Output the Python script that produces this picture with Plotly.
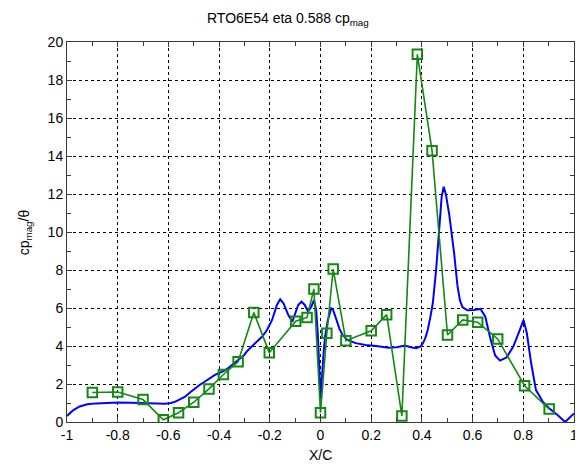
import plotly.graph_objects as go

# Blue curve (continuous distribution)
blue_x = [-1.0, -0.975, -0.95, -0.92, -0.884, -0.84, -0.80, -0.75, -0.70, -0.65, -0.612, -0.59,
          -0.573, -0.553, -0.534, -0.515, -0.496, -0.477, -0.457, -0.438, -0.418, -0.40, -0.379,
          -0.36, -0.34, -0.32, -0.301, -0.289, -0.27, -0.25, -0.23, -0.211, -0.191, -0.172,
          -0.159, -0.146, -0.127, -0.111, -0.101, -0.088, -0.075, -0.062, -0.049, -0.036,
          -0.026, -0.017, -0.010, -0.004, 0.0, 0.004, 0.007, 0.012, 0.018, 0.029, 0.042, 0.050,
          0.061, 0.074, 0.087, 0.106, 0.139, 0.177, 0.22, 0.268, 0.30, 0.333, 0.36, 0.378,
          0.395, 0.404, 0.413, 0.423, 0.433, 0.443, 0.456, 0.469, 0.478, 0.486, 0.495, 0.508,
          0.527, 0.540, 0.550, 0.560, 0.579, 0.605, 0.631, 0.650, 0.670, 0.689, 0.708, 0.734,
          0.760, 0.786, 0.801, 0.814, 0.831, 0.850, 0.877, 0.902, 0.935, 0.965, 0.993, 1.0]
blue_y = [0.32, 0.63, 0.82, 0.93, 0.98, 1.01, 1.02, 1.01, 0.99, 0.97, 0.96, 1.0,
          1.07, 1.2, 1.33, 1.55, 1.77, 1.95, 2.12, 2.3, 2.47, 2.58, 2.7,
          2.88, 3.09, 3.3, 3.53, 3.74, 3.97, 4.23, 4.5, 4.84, 5.37, 6.16,
          6.46, 6.25, 5.63, 5.28, 5.72, 6.16, 6.33, 6.16, 5.81, 6.07,
          6.42, 5.89, 4.49, 2.74, 1.2, 2.0, 2.74, 3.6, 4.49, 5.37, 5.98, 5.89,
          5.46, 4.93, 4.58, 4.32, 4.15, 4.05, 4.0, 3.91, 3.93, 4.02, 3.92, 3.88,
          3.98, 4.14, 4.4, 4.84, 5.5, 6.25, 8.0, 10.28, 11.86, 12.38, 11.95, 10.9,
          8.9, 7.2, 6.4, 6.05, 5.88, 5.9, 5.95, 5.54, 4.4, 3.5, 3.23, 3.4,
          3.96, 4.84, 5.37, 4.67, 3.09, 1.68, 1.07, 0.72, 0.37, 0.0, 0.37, 0.45]

# Green measured points
green_x = [-0.90, -0.80, -0.70, -0.62, -0.56, -0.50, -0.44, -0.383, -0.325, -0.263, -0.202,
           -0.098, -0.053, -0.026, 0.0, 0.025, 0.05, 0.10, 0.20, 0.261, 0.321, 0.382, 0.440,
           0.501, 0.561, 0.620, 0.699, 0.805, 0.902]
green_y = [1.55, 1.58, 1.18, 0.12, 0.49, 1.04, 1.74, 2.5, 3.17, 5.76, 3.65,
           5.3, 5.5, 7.0, 0.49, 4.67, 8.05, 4.28, 4.8, 5.65, 0.32, 19.35, 14.28,
           4.58, 5.37, 5.25, 4.37, 1.91, 0.68]

x_tickvals = [-1, -0.8, -0.6, -0.4, -0.2, 0, 0.2, 0.4, 0.6, 0.8, 1]
x_ticktext = ["-1", "-0.8", "-0.6", "-0.4", "-0.2", "0", "0.2", "0.4", "0.6", "0.8", "1"]
y_tickvals = [0, 2, 4, 6, 8, 10, 12, 14, 16, 18, 20]
y_ticktext = ["0", "2", "4", "6", "8", "10", "12", "14", "16", "18", "20"]

FONT = "Arial, Liberation Sans, sans-serif"
GREEN = "rgb(20,135,20)"

fig = go.Figure()
fig.add_trace(go.Scatter(x=blue_x, y=blue_y, mode="lines",
                         line=dict(color="#0000ff", width=2), showlegend=False))
fig.add_trace(go.Scatter(x=green_x, y=green_y, mode="lines+markers",
                         line=dict(color=GREEN, width=1.6),
                         marker=dict(symbol="square-open", size=9.5, color=GREEN,
                                     line=dict(color=GREEN, width=2)),
                         showlegend=False))

axis_common = dict(
    showline=True, linecolor="#3a3a3a", linewidth=1, mirror="allticks",
    ticks="inside", ticklen=5, tickcolor="#3a3a3a",
    showgrid=True, gridcolor="#000000", gridwidth=1, griddash="3px,3px",
    zeroline=False,
    tickfont=dict(family=FONT, size=14, color="black"),
)

fig.update_xaxes(range=[-1, 1], tickvals=x_tickvals, ticktext=x_ticktext,
                 minor=dict(ticks="inside", ticklen=4, dtick=0.1, tick0=0, showgrid=False,
                            tickcolor="#3a3a3a"),
                 **axis_common)
fig.update_yaxes(range=[0, 20], tickvals=y_tickvals, ticktext=y_ticktext,
                 minor=dict(ticks="inside", ticklen=4, dtick=1, tick0=0, showgrid=False,
                            tickcolor="#3a3a3a"),
                 **axis_common)

# page body has an 8px default margin; plot area target: x 67..578, y 42..422
PW = 511
fig.update_layout(
    width=575, height=457,
    margin=dict(l=59, r=5, t=34, b=43),
    paper_bgcolor="white", plot_bgcolor="white",
    font=dict(family=FONT, size=14, color="black"),
    annotations=[
        dict(text="RTO6E54 eta 0.588 cp<sub>mag</sub>", xref="paper", yref="paper",
             x=(290 - 67) / PW, y=(422 - 19) / 380, xanchor="center", yanchor="middle",
             showarrow=False, font=dict(family=FONT, size=14, color="black")),
        dict(text="X/C", xref="paper", yref="paper",
             x=(322 - 67) / PW, y=(422 - 455) / 380, xanchor="center", yanchor="middle",
             showarrow=False, font=dict(family=FONT, size=14, color="black")),
        dict(text="cp<sub>mag</sub>/θ", xref="paper", yref="paper",
             x=(25 - 67) / PW, y=0.5, xanchor="center", yanchor="middle", textangle=-90,
             showarrow=False, font=dict(family=FONT, size=14, color="black")),
    ],
)

fig.write_html("out.html")
